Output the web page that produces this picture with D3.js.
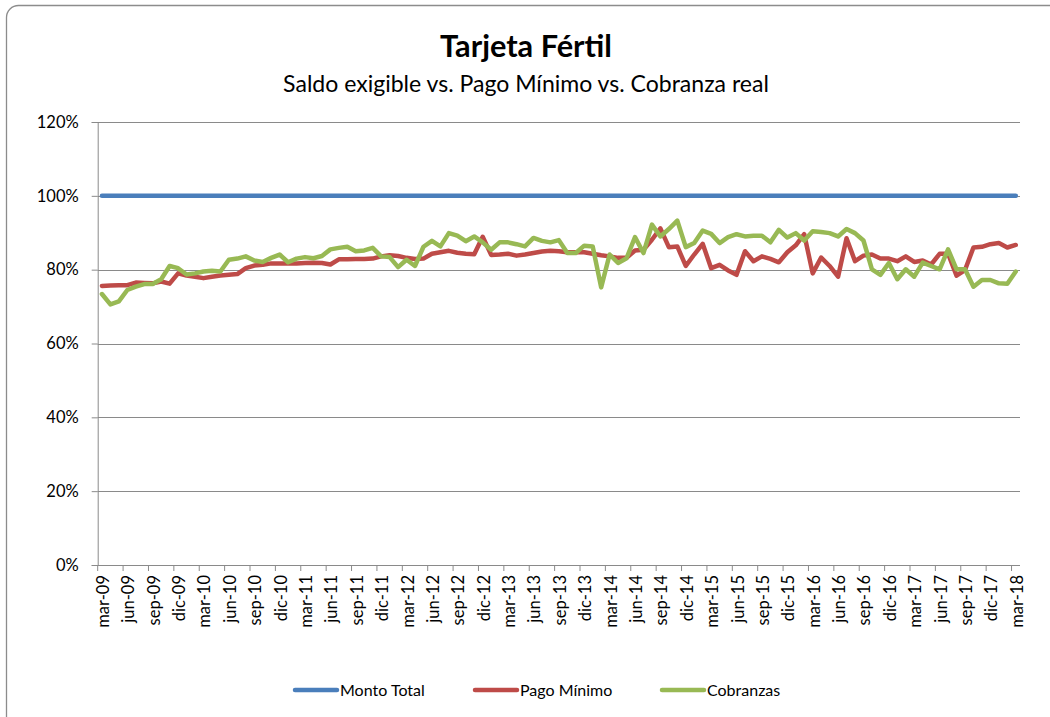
<!DOCTYPE html>
<html>
<head>
<meta charset="utf-8">
<script src="https://cdn.jsdelivr.net/npm/d3@7"></script>
<style>
  body { margin: 0; background: #fff; }
  svg { display: block; font-family: Lato, "Open Sans", sans-serif; }
</style>
</head>
<body>
<div id="chart"></div>
<script>
/*
 * Tarjeta Fertil - monthly line chart
 */

var monthNames = ["ene", "feb", "mar", "abr", "may", "jun", "jul", "ago", "sep", "oct", "nov", "dic"];

// categories: mar-09 .. mar-18
var categories = [];
for (var y = 2009; y <= 2018; y++) {
  for (var m = 0; m < 12; m++) {
    if ((y == 2009 && m < 2) || (y == 2018 && m > 2)) continue;
    categories.push(monthNames[m] + "-" + String(y).slice(2));
  }
}

var yTicks = [0, 0.2, 0.4, 0.6, 0.8, 1.0, 1.2];

var seriesNames = ["Monto Total", "Pago Mínimo", "Cobranzas"];
var seriesColors = ["#4a7ebb", "#be4b48", "#98b954"];

var montoTotal = [
  1, 1, 1, 1, 1, 1, 1, 1, 1, 1, 1, 1,
  1, 1, 1, 1, 1, 1, 1, 1, 1, 1, 1, 1,
  1, 1, 1, 1, 1, 1, 1, 1, 1, 1, 1, 1,
  1, 1, 1, 1, 1, 1, 1, 1, 1, 1, 1, 1,
  1, 1, 1, 1, 1, 1, 1, 1, 1, 1, 1, 1,
  1, 1, 1, 1, 1, 1, 1, 1, 1, 1, 1, 1,
  1, 1, 1, 1, 1, 1, 1, 1, 1, 1, 1, 1,
  1, 1, 1, 1, 1, 1, 1, 1, 1, 1, 1, 1,
  1, 1, 1, 1, 1, 1, 1, 1, 1, 1, 1, 1,
  1
];

var pagoMinimo = [
  0.756, 0.757, 0.758, 0.758, 0.765, 0.764, 0.763, 0.768, 0.762, 0.790, 0.784, 0.781,
  0.777, 0.781, 0.784, 0.786, 0.788, 0.804, 0.811, 0.813, 0.817, 0.817, 0.817, 0.817,
  0.818, 0.819, 0.818, 0.814, 0.828, 0.828, 0.829, 0.829, 0.830, 0.836, 0.839, 0.837,
  0.832, 0.829, 0.830, 0.843, 0.847, 0.851, 0.846, 0.843, 0.842, 0.889, 0.840, 0.841,
  0.843, 0.838, 0.841, 0.845, 0.849, 0.851, 0.850, 0.847, 0.847, 0.847, 0.843, 0.839,
  0.836, 0.832, 0.832, 0.852, 0.854, 0.881, 0.912, 0.861, 0.863, 0.810, 0.841, 0.870,
  0.804, 0.813, 0.798, 0.786, 0.850, 0.823, 0.836, 0.829, 0.820, 0.847, 0.866, 0.896,
  0.790, 0.833, 0.810, 0.781, 0.885, 0.823, 0.838, 0.841, 0.830, 0.830, 0.823, 0.836,
  0.821, 0.825, 0.814, 0.843, 0.843, 0.784, 0.799, 0.860, 0.862, 0.869, 0.872, 0.860,
  0.867
];

var cobranzas = [
  0.734, 0.706, 0.714, 0.745, 0.754, 0.761, 0.761, 0.774, 0.810, 0.804, 0.787, 0.790,
  0.795, 0.797, 0.795, 0.827, 0.830, 0.836, 0.825, 0.821, 0.832, 0.841, 0.820, 0.830,
  0.834, 0.831, 0.837, 0.855, 0.859, 0.862, 0.850, 0.852, 0.859, 0.836, 0.834, 0.807,
  0.827, 0.810, 0.862, 0.878, 0.863, 0.899, 0.892, 0.877, 0.890, 0.874, 0.854, 0.874,
  0.874, 0.869, 0.863, 0.886, 0.878, 0.874, 0.880, 0.845, 0.845, 0.865, 0.863, 0.752,
  0.841, 0.818, 0.831, 0.888, 0.845, 0.922, 0.890, 0.910, 0.933, 0.861, 0.872, 0.906,
  0.897, 0.872, 0.888, 0.896, 0.890, 0.892, 0.892, 0.874, 0.908, 0.887, 0.899, 0.879,
  0.904, 0.902, 0.899, 0.890, 0.910, 0.899, 0.879, 0.801, 0.786, 0.818, 0.774, 0.801,
  0.781, 0.819, 0.810, 0.801, 0.855, 0.801, 0.801, 0.754, 0.772, 0.772, 0.763, 0.762,
  0.795
];

var seriesValues = [montoTotal, pagoMinimo, cobranzas];

var width = 1050, height = 717;
var plot = { left: 97.7, right: 1020, top: 122, bottom: 565 };

var svg = d3.select("#chart").append("svg")
  .attr("width", width).attr("height", height);

// outer rounded frame
svg.append("rect")
  .attr("x", 6.5).attr("y", 5.5)
  .attr("width", 1080).attr("height", 750)
  .attr("rx", 12)
  .style("fill", "white").style("stroke", "#8c8c8c").style("stroke-width", 1.3);

// scales
var x = d3.scaleBand().domain(categories).range([plot.left, plot.right]).paddingInner(0).paddingOuter(0);
var yScale = d3.scaleLinear().domain([0, 1.2]).range([plot.bottom, plot.top]);

// gridlines
svg.append("g").selectAll("line").data(yTicks).enter().append("line")
  .attr("x1", plot.left).attr("x2", plot.right)
  .attr("y1", function(d){ return Math.round(yScale(d)) + 0.5; })
  .attr("y2", function(d){ return Math.round(yScale(d)) + 0.5; })
  .style("stroke", "#8a8a8a").style("stroke-width", 1);

// y axis
var yAxis = d3.axisLeft(yScale).tickValues(yTicks)
  .tickFormat(d3.format(".0%")).tickSize(6).tickPadding(13);
var gy = svg.append("g").attr("transform", "translate(" + plot.left + ",0)").call(yAxis);
gy.select(".domain").style("stroke", "#8a8a8a");
gy.selectAll(".tick line").style("stroke", "#8a8a8a");
gy.selectAll(".tick text").style("font-size", "16.5px").style("fill", "#000").style("font-family", "Lato");

// x axis: ticks every 3 months on category boundaries
var tickCats = categories.filter(function(d, i){ return i % 3 == 0; });
var gx = svg.append("g").attr("transform", "translate(0," + plot.bottom + ")");
gx.append("line").attr("x1", plot.left).attr("x2", plot.right)
  .attr("y1", 0.5).attr("y2", 0.5).style("stroke", "#8a8a8a");
gx.selectAll(".xtick").data(tickCats).enter().append("line")
  .attr("class", "xtick")
  .attr("x1", function(d){ return x(d); }).attr("x2", function(d){ return x(d); })
  .attr("y1", 0).attr("y2", 6)
  .style("stroke", "#8a8a8a");
gx.selectAll(".xlab").data(tickCats).enter().append("text")
  .attr("class", "xlab")
  .attr("transform", function(d){
    return "translate(" + (x(d) + x.bandwidth() / 2 + 7) + ",10) rotate(-90)";
  })
  .attr("text-anchor", "end")
  .style("font-size", "16.5px").style("font-family", "Lato")
  .text(function(d){ return d; });

// lines
var line = d3.line()
  .x(function(d, i){ return x(categories[i]) + x.bandwidth() / 2; })
  .y(function(d){ return yScale(d); });

svg.append("g").selectAll("path").data(seriesValues).enter().append("path")
  .attr("d", function(d){ return line(d); })
  .style("fill", "none")
  .style("stroke", function(d, i){ return seriesColors[i]; })
  .style("stroke-width", 4.5)
  .style("stroke-linejoin", "round")
  .style("stroke-linecap", "round");

// title and subtitle
function fitText(sel, target) {
  var len = sel.node().getComputedTextLength();
  var fs = parseFloat(sel.style("font-size"));
  sel.style("font-size", (fs * target / len) + "px");
}
var title = svg.append("text").attr("x", 526).attr("y", 57).attr("text-anchor", "middle")
  .style("font-weight", "bold").style("font-size", "24px").text("Tarjeta Fértil");
fitText(title, 172);
var subtitle = svg.append("text").attr("x", 526).attr("y", 92).attr("text-anchor", "middle")
  .style("font-size", "18px").text("Saldo exigible vs. Pago Mínimo vs. Cobranza real");
fitText(subtitle, 486);

// legend
var legendX = [295, 475, 662];
var legend = svg.append("g").selectAll("g").data(seriesNames).enter().append("g")
  .attr("transform", function(d, i){ return "translate(" + legendX[i] + ",690)"; });
legend.append("line")
  .attr("x1", 0).attr("x2", 42).attr("y1", 0).attr("y2", 0)
  .style("stroke", function(d, i){ return seriesColors[i]; })
  .style("stroke-width", 4.5).style("stroke-linecap", "round");
legend.append("text").attr("x", 45).attr("y", 5.5)
  .style("font-size", "16px")
  .text(function(d){ return d; });
</script>
</body>
</html>
